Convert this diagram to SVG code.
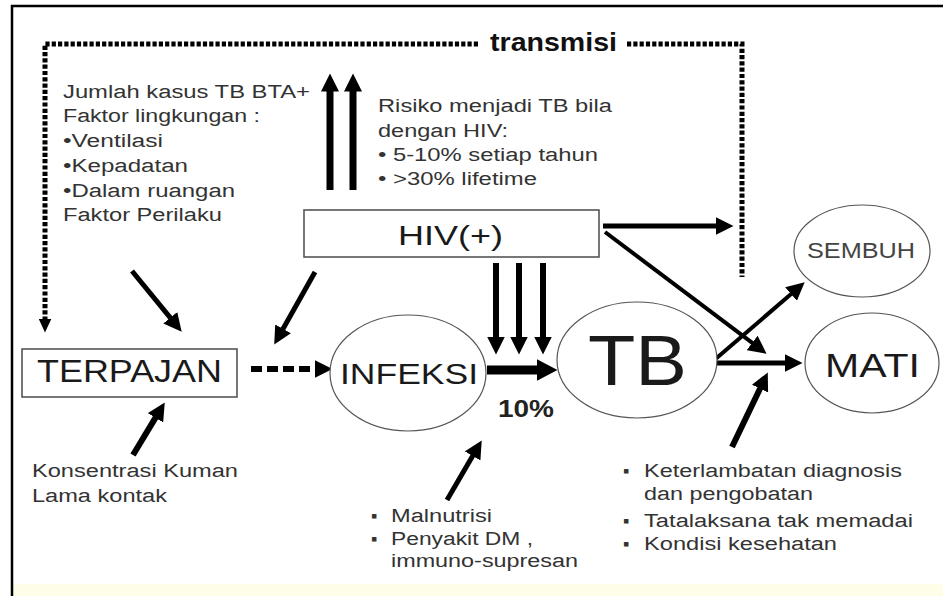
<svg xmlns="http://www.w3.org/2000/svg" width="943" height="596" viewBox="0 0 943 596">
<style>
.t{font-family:"Liberation Sans",Arial,sans-serif;fill:#333;font-size:18px}
.lab{font-family:"Liberation Sans",Arial,sans-serif;fill:#1a1a1a}
.box{fill:#fff;stroke:#555;stroke-width:1.6}
.ell{fill:#fff;stroke:#555;stroke-width:1.2}
.ar{fill:none;stroke:#000;stroke-linecap:butt}
.dot{fill:none;stroke:#000;stroke-width:5;stroke-dasharray:4.2 2.1}
</style>
<defs>
<marker id="mBig" markerUnits="userSpaceOnUse" markerWidth="22" markerHeight="22" viewBox="0 0 22 22" refX="0.5" refY="11" orient="auto"><path d="M0,0 L21,11 L0,22 z" fill="#000" stroke="none"/></marker>
<marker id="mMed" markerUnits="userSpaceOnUse" markerWidth="19" markerHeight="18" viewBox="0 0 19 18" refX="0.5" refY="9" orient="auto"><path d="M0,0 L18,9 L0,18 z" fill="#000" stroke="none"/></marker>
<marker id="mSm" markerUnits="userSpaceOnUse" markerWidth="15" markerHeight="13" viewBox="0 0 15 13" refX="0.5" refY="6.5" orient="auto"><path d="M0,0 L14,6.5 L0,13 z" fill="#000" stroke="none"/></marker>
</defs>
<rect x="0" y="0" width="943" height="596" fill="#fff"/>
<rect x="13" y="584" width="930" height="12" fill="#fdfde8"/>
<path d="M12,596 V6 H943" fill="none" stroke="#000" stroke-width="2.5"/>

<g id="connectors">
<path class="dot" d="M478,44 H45 V319" marker-end="url(#mSm)"/>
<path class="dot" d="M627,44 H742 V277"/>
<line class="ar" x1="330" y1="190" x2="330" y2="91" stroke-width="7" marker-end="url(#mMed)"/>
<line class="ar" x1="353" y1="190" x2="353" y2="91" stroke-width="7" marker-end="url(#mMed)"/>
<line class="ar" x1="496" y1="263" x2="496" y2="337" stroke-width="6" marker-end="url(#mMed)"/>
<line class="ar" x1="519" y1="263" x2="519" y2="337" stroke-width="6" marker-end="url(#mMed)"/>
<line class="ar" x1="543" y1="263" x2="543" y2="337" stroke-width="6" marker-end="url(#mMed)"/>
<line class="ar" x1="487" y1="370" x2="537" y2="370" stroke-width="9" marker-end="url(#mBig)"/>
<line class="ar" x1="251" y1="369" x2="315" y2="369" stroke-width="6" stroke-dasharray="11 5" marker-end="url(#mMed)"/>
<line class="ar" x1="603" y1="226" x2="716" y2="226" stroke-width="5" marker-end="url(#mMed)"/>
<line class="ar" x1="605" y1="232" x2="752.6" y2="343.2" stroke-width="4" marker-end="url(#mMed)"/>
<line class="ar" x1="708" y1="363" x2="785" y2="363" stroke-width="5" marker-end="url(#mMed)"/>
<line class="ar" x1="712" y1="362" x2="791.4" y2="293.7" stroke-width="4" marker-end="url(#mMed)"/>
<line class="ar" x1="732" y1="447" x2="760.2" y2="388.2" stroke-width="6" marker-end="url(#mMed)"/>
<line class="ar" x1="133" y1="455" x2="155.7" y2="417.4" stroke-width="6" marker-end="url(#mMed)"/>
<line class="ar" x1="132" y1="271" x2="170.6" y2="318.1" stroke-width="5" marker-end="url(#mMed)"/>
<line class="ar" x1="315" y1="272" x2="282.8" y2="329.3" stroke-width="5" marker-end="url(#mMed)"/>
<line class="ar" x1="447" y1="500" x2="472.9" y2="455.5" stroke-width="5" marker-end="url(#mMed)"/>
</g>

<g id="transmisi-label">
<text x="490" y="51" font-family="Liberation Sans, Arial, sans-serif" font-weight="bold" font-size="26" fill="#111" textLength="127" lengthAdjust="spacingAndGlyphs">transmisi</text>
</g>

<g id="faktor-text">
<text class="t" x="63" y="98" textLength="247" lengthAdjust="spacingAndGlyphs">Jumlah kasus TB BTA+</text>
<text class="t" x="63" y="122" textLength="197" lengthAdjust="spacingAndGlyphs">Faktor lingkungan :</text>
<text class="t" x="63" y="147" textLength="100" lengthAdjust="spacingAndGlyphs">•Ventilasi</text>
<text class="t" x="63" y="172" textLength="125" lengthAdjust="spacingAndGlyphs">•Kepadatan</text>
<text class="t" x="63" y="197" textLength="172" lengthAdjust="spacingAndGlyphs">•Dalam ruangan</text>
<text class="t" x="63" y="221" textLength="159" lengthAdjust="spacingAndGlyphs">Faktor Perilaku</text>
</g>

<g id="risiko-text">
<text class="t" x="378" y="112" textLength="234" lengthAdjust="spacingAndGlyphs">Risiko menjadi TB bila</text>
<text class="t" x="378" y="137" textLength="130" lengthAdjust="spacingAndGlyphs">dengan HIV:</text>
<text class="t" x="378" y="161" textLength="220" lengthAdjust="spacingAndGlyphs">• 5-10% setiap tahun</text>
<text class="t" x="378" y="185" textLength="159" lengthAdjust="spacingAndGlyphs">• &gt;30% lifetime</text>
</g>

<g id="hiv">
<rect class="box" x="304" y="210" width="295" height="47"/>
<text class="lab" x="398" y="245" font-size="28" textLength="105" lengthAdjust="spacingAndGlyphs">HIV(+)</text>
</g>

<g id="terpajan">
<rect class="box" x="22" y="349" width="215" height="48"/>
<text class="lab" x="37" y="382" font-size="31" textLength="185" lengthAdjust="spacingAndGlyphs">TERPAJAN</text>
</g>

<g id="infeksi">
<ellipse class="ell" cx="408" cy="373" rx="78" ry="58"/>
<text class="lab" x="340" y="384" font-size="30" textLength="138" lengthAdjust="spacingAndGlyphs">INFEKSI</text>
</g>

<g id="tb">
<ellipse class="ell" cx="637" cy="360" rx="80" ry="58"/>
<text class="lab" x="588" y="385" font-size="70" textLength="99" lengthAdjust="spacingAndGlyphs">TB</text>
</g>

<g id="sembuh">
<ellipse class="ell" cx="862" cy="251" rx="68" ry="46"/>
<text class="lab" x="807" y="258" font-size="22" style="fill:#444" textLength="108" lengthAdjust="spacingAndGlyphs">SEMBUH</text>
</g>

<g id="mati">
<ellipse class="ell" cx="872" cy="363" rx="67" ry="50"/>
<text class="lab" x="825" y="377" font-size="33" textLength="95" lengthAdjust="spacingAndGlyphs">MATI</text>
</g>

<g id="persen">
<text x="498" y="417" font-family="Liberation Sans, Arial, sans-serif" font-weight="bold" font-size="24" fill="#222" textLength="56" lengthAdjust="spacingAndGlyphs">10%</text>
</g>

<g id="konsentrasi-text">
<text class="t" x="32" y="477" textLength="206" lengthAdjust="spacingAndGlyphs">Konsentrasi Kuman</text>
<text class="t" x="32" y="502" textLength="135" lengthAdjust="spacingAndGlyphs">Lama kontak</text>
</g>

<g id="malnutrisi-text">
<text class="t" x="371" y="522" font-size="14">▪</text>
<text class="t" x="391" y="522" textLength="101" lengthAdjust="spacingAndGlyphs">Malnutrisi</text>
<text class="t" x="371" y="545" font-size="14">▪</text>
<text class="t" x="391" y="545" textLength="142" lengthAdjust="spacingAndGlyphs">Penyakit DM ,</text>
<text class="t" x="391" y="567" textLength="187" lengthAdjust="spacingAndGlyphs">immuno-supresan</text>
</g>

<g id="keterlambatan-text">
<text class="t" x="623" y="477" font-size="14">▪</text>
<text class="t" x="644" y="477" textLength="258" lengthAdjust="spacingAndGlyphs">Keterlambatan diagnosis</text>
<text class="t" x="644" y="500" textLength="169" lengthAdjust="spacingAndGlyphs">dan pengobatan</text>
<text class="t" x="623" y="527" font-size="14">▪</text>
<text class="t" x="644" y="527" textLength="269" lengthAdjust="spacingAndGlyphs">Tatalaksana tak memadai</text>
<text class="t" x="623" y="550" font-size="14">▪</text>
<text class="t" x="644" y="550" textLength="193" lengthAdjust="spacingAndGlyphs">Kondisi kesehatan</text>
</g>
</svg>
